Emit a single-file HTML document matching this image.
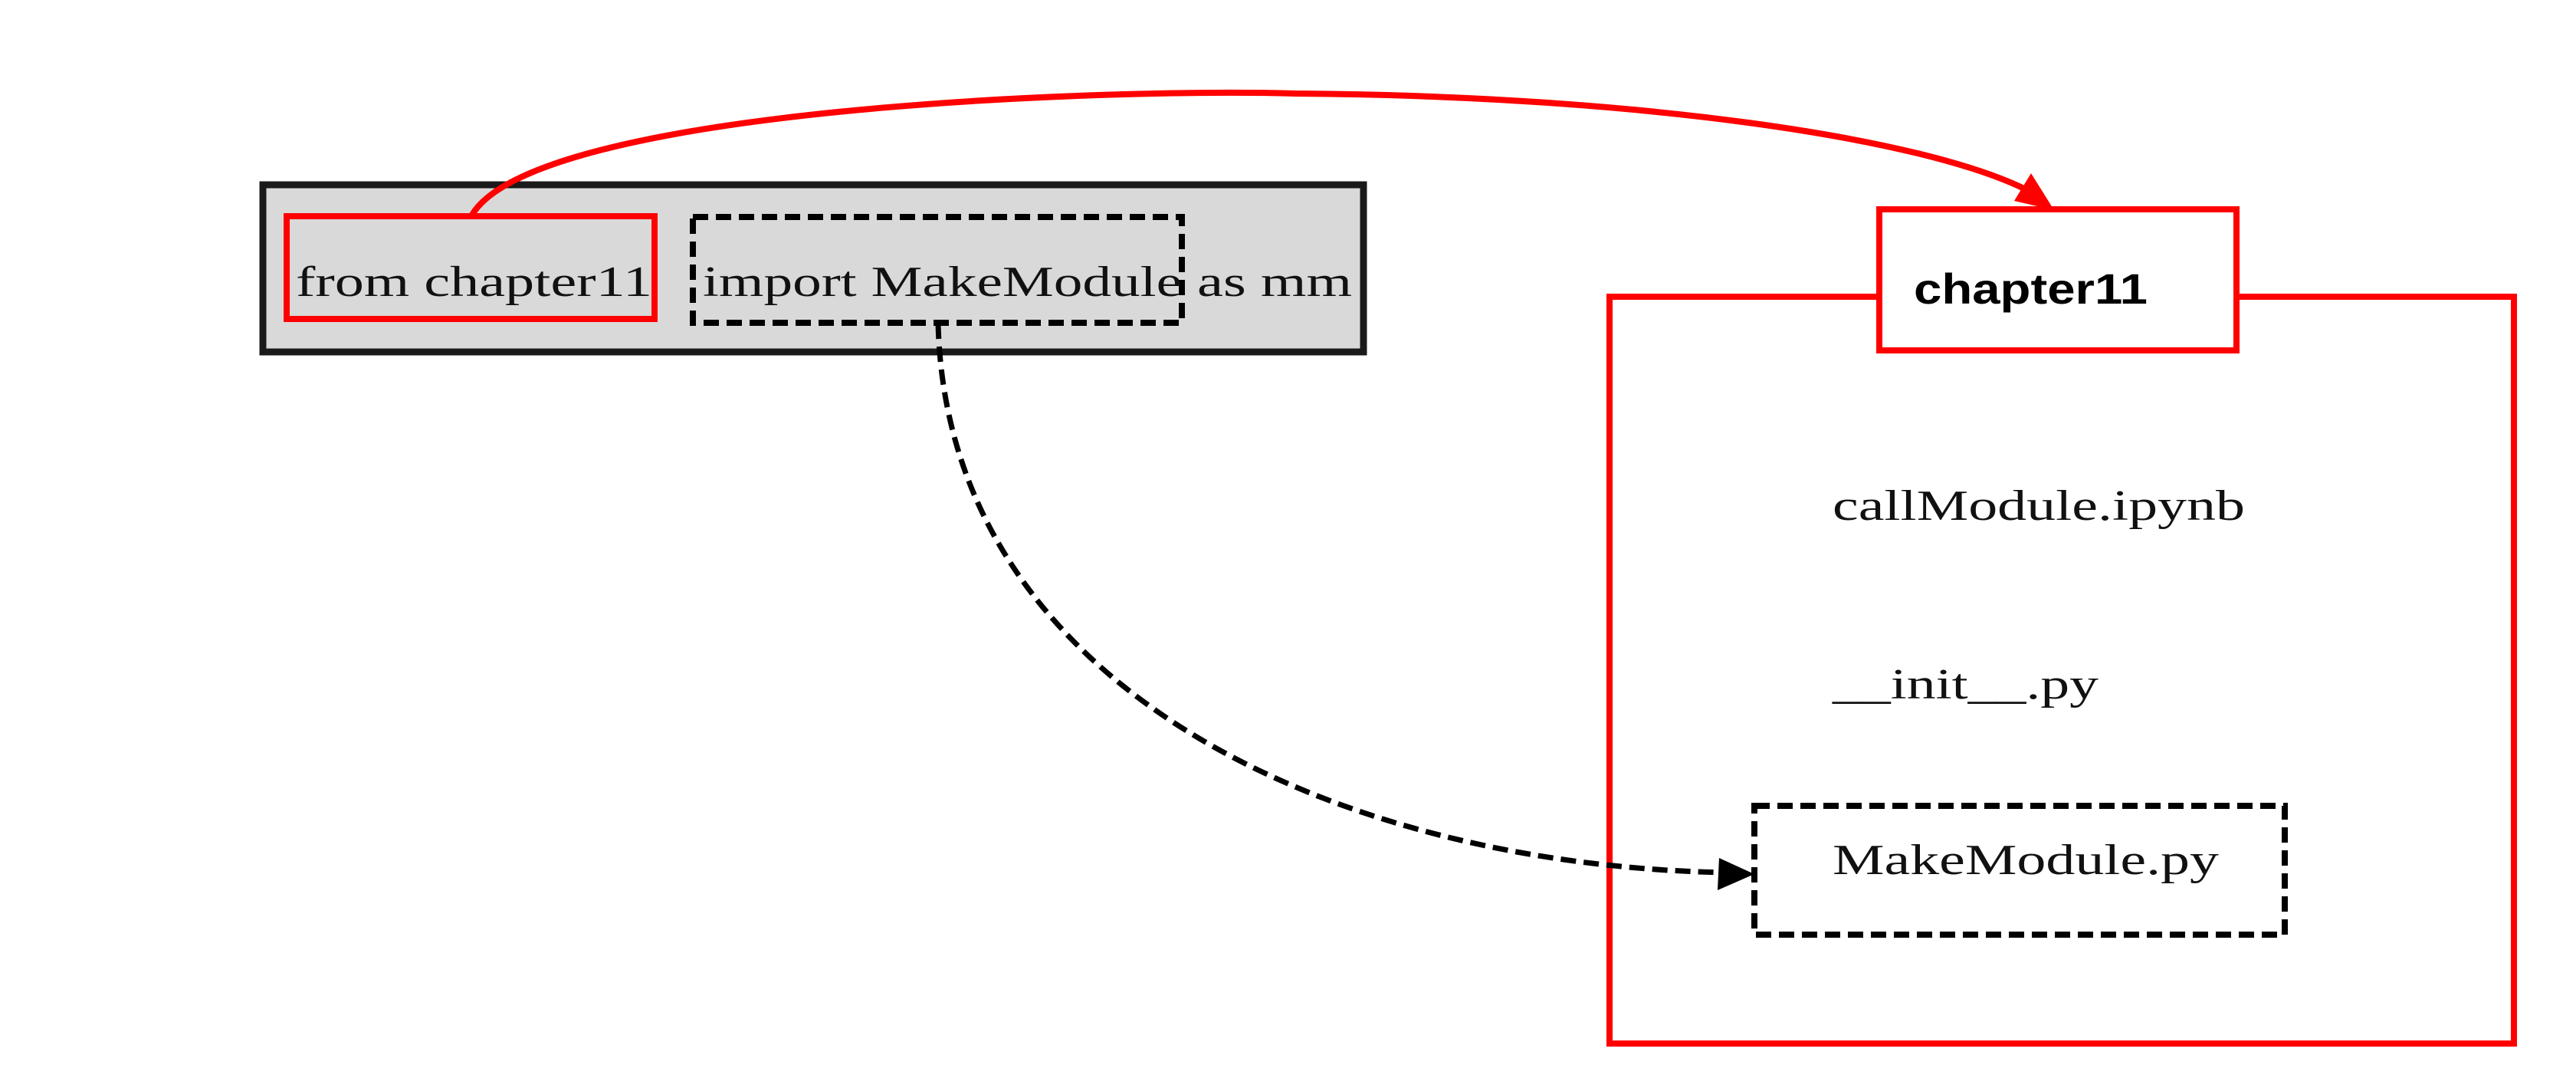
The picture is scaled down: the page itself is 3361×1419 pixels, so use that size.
<!DOCTYPE html>
<html><head><meta charset="utf-8"><style>html,body{margin:0;padding:0;background:#fff}svg{display:block}</style></head>
<body>
<svg width="3361" height="1419" viewBox="0 0 3361 1419" xmlns="http://www.w3.org/2000/svg">
<!-- gray box -->
<rect x="343" y="241" width="1436" height="218" fill="#d9d9d9" stroke="#1a1a1a" stroke-width="9"/>
<rect x="374" y="282" width="480" height="134" fill="none" stroke="#ff0000" stroke-width="8"/>
<rect x="904" y="283" width="638" height="138" fill="none" stroke="#000" stroke-width="8" stroke-dasharray="20,10"/>
<g font-family="Liberation Serif, serif" font-size="56" fill="#111">
<text x="386" y="386" textLength="465" lengthAdjust="spacingAndGlyphs">from chapter11</text>
<text x="917" y="386" textLength="625" lengthAdjust="spacingAndGlyphs">import MakeModule</text>
<text x="1562" y="386" textLength="202" lengthAdjust="spacingAndGlyphs">as mm</text>
<text x="2391" y="678" textLength="538" lengthAdjust="spacingAndGlyphs">callModule.ipynb</text>
<text x="2391" y="911" textLength="347" lengthAdjust="spacingAndGlyphs">__init__.py</text>
<text x="2391" y="1140" textLength="504" lengthAdjust="spacingAndGlyphs">MakeModule.py</text>
</g>
<!-- big red box -->
<rect x="2100" y="387" width="1180" height="974" fill="none" stroke="#ff0000" stroke-width="8"/>
<rect x="2452" y="273" width="466" height="184" fill="#fff" stroke="#ff0000" stroke-width="8"/>
<text x="2497" y="396" font-family="Liberation Sans, sans-serif" font-weight="bold" font-size="56" textLength="305" lengthAdjust="spacingAndGlyphs" fill="#000">chapter11</text>
<!-- MakeModule box -->
<rect x="2289" y="1051" width="692" height="168" fill="none" stroke="#000" stroke-width="8" stroke-dasharray="20,10"/>
<!-- red arc -->
<path d="M616,280 C700,140 1450,115 1690,122 C2140,125 2510,180 2645,248" fill="none" stroke="#ff0000" stroke-width="8"/>
<polygon points="2680,274 2628,262 2650,226" fill="#ff0000"/>
<!-- dashed curve -->
<path d="M1224,422 C1236,900 1745,1128 2250,1138" fill="none" stroke="#000" stroke-width="7" stroke-dasharray="20,10"/>
<polygon points="2289,1140 2243,1119 2241,1161" fill="#000"/>
</svg>
</body></html>
